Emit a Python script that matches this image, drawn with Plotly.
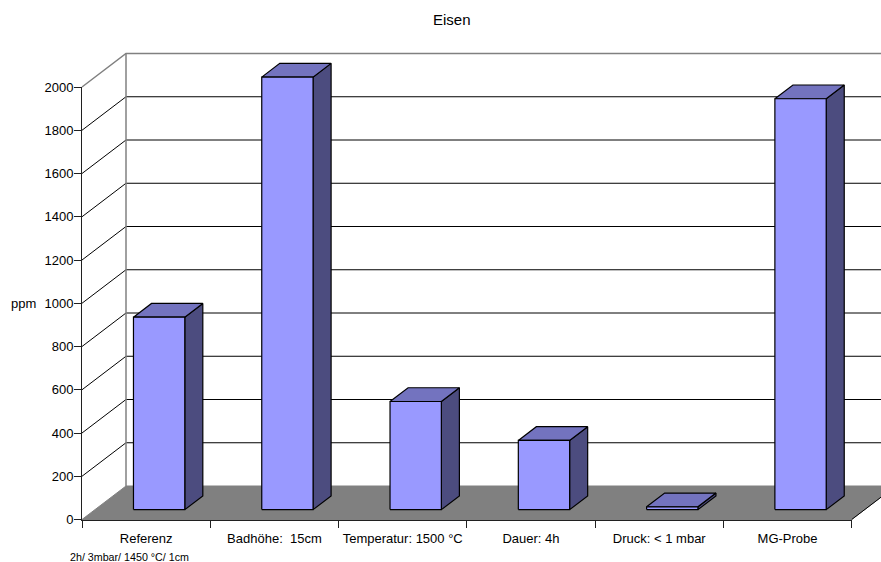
import plotly.graph_objects as go

# Values of the iron series in ppm
categories = ["Referenz", "Badhöhe:\u00a0 15cm", "Temperatur: 1500 °C", "Dauer: 4h", "Druck: < 1 mbar", "MG-Probe"]
values = [890, 2000, 500, 320, 13, 1900]
y_ticks = [0, 200, 400, 600, 800, 1000, 1200, 1400, 1600, 1800, 2000]

W, H = 881, 562
LEFT, RIGHT = 82.0, 851.7      # front plane, pixels
ZERO, TOP = 519.5, 87.0        # front plane, pixels
CAT_PX = (RIGHT - LEFT) / len(categories)
PPM_PX = (ZERO - TOP) / 2000

# Oblique projection: one full depth unit shifts by this much, in axis units
DEPTH_X = 44.0 / CAT_PX
DEPTH_Y = 33.5 / PPM_PX
NEAR, FAR = 0.295, 0.705        # depth range occupied by the bars
BAR_W = 0.40


def project(cat, ppm, depth):
    return cat + depth * DEPTH_X, ppm + depth * DEPTH_Y


def polygons(faces):
    xs, ys = [], []
    for face in faces:
        for cat, ppm, depth in face + [face[0]]:
            x, y = project(cat, ppm, depth)
            xs.append(x)
            ys.append(y)
        xs.append(None)
        ys.append(None)
    return xs, ys


def segments(runs):
    xs, ys = [], []
    for run in runs:
        for cat, ppm, depth in run:
            x, y = project(cat, ppm, depth)
            xs.append(x)
            ys.append(y)
        xs.append(None)
        ys.append(None)
    return xs, ys


n = len(categories)
far_right = n + 1          # gridlines run out of the page on the right

fig = go.Figure()


def add_lines(runs, color, width=1):
    x, y = segments(runs)
    fig.add_trace(go.Scatter(x=x, y=y, mode="lines", line=dict(color=color, width=width),
                             hoverinfo="skip", showlegend=False, xaxis="x", yaxis="y"))


def add_faces(faces, fill, line="#000000", width=1.2):
    x, y = polygons(faces)
    fig.add_trace(go.Scatter(x=x, y=y, mode="lines", fill="toself", fillcolor=fill,
                             line=dict(color=line, width=width), hoverinfo="skip",
                             showlegend=False, xaxis="x", yaxis="y"))


# Gridlines across the side wall and the back wall
grid = [t for t in y_ticks if 0 < t < 2000]
add_lines([[(0, t, 0), (0, t, 1), (far_right, t, 1)] for t in grid], "#000000")

# Wall outline
add_lines([[(0, 2000, 0), (0, 2000, 1), (far_right, 2000, 1)],
           [(0, 0, 1), (0, 2000, 1)]], "#808080", 1.5)

# Floor
add_faces([[(0, 0, 0), (n, 0, 0), (n, 0, 1), (0, 0, 1)]], "#808080", "#808080", 1)
add_lines([[(n, 0, 0), (n, 0, 1)]], "#000000")

# Bars: side, top, then front face
side, top, front = [], [], []
for i, v in enumerate(values):
    a, b = i + 0.5 - BAR_W / 2, i + 0.5 + BAR_W / 2
    front.append([(a, 0, NEAR), (b, 0, NEAR), (b, v, NEAR), (a, v, NEAR)])
    side.append([(b, 0, NEAR), (b, 0, FAR), (b, v, FAR), (b, v, NEAR)])
    top.append([(a, v, NEAR), (b, v, NEAR), (b, v, FAR), (a, v, FAR)])
add_faces(side, "#4C4C7F")
add_faces(top, "#7373BF")
add_faces(front, "#9999FF")

# Invisible trace keeps the front-plane axes alive
fig.add_trace(go.Scatter(x=[0], y=[0], mode="markers", marker=dict(opacity=0),
                         hoverinfo="skip", showlegend=False, xaxis="x2", yaxis="y2"))

FONT = "Liberation Sans, Arial, sans-serif"


def label(text, px, py, size):
    # Page-pixel placement expressed on the full-page axes
    return dict(text=text, xref="x", yref="y", x=(px - LEFT) / CAT_PX, y=(ZERO - py) / PPM_PX,
                showarrow=False, font=dict(family=FONT, size=size, color="#000000"),
                xanchor="center", yanchor="middle")


fig.update_layout(
    width=W, height=H, margin=dict(l=0, r=0, t=0, b=0, pad=0, autoexpand=False),
    paper_bgcolor="#ffffff", plot_bgcolor="rgba(0,0,0,0)",
    font=dict(family=FONT, size=13, color="#000000"),
    showlegend=False,
    xaxis=dict(domain=[0, 1], range=[-LEFT / CAT_PX, (W - LEFT) / CAT_PX], visible=False, fixedrange=True),
    yaxis=dict(domain=[0, 1], range=[(ZERO - H) / PPM_PX, ZERO / PPM_PX], visible=False, fixedrange=True),
    xaxis2=dict(domain=[LEFT / W, RIGHT / W], range=[0, n], anchor="y2",
                tickmode="array", tickvals=[i + 0.5 for i in range(n)], ticktext=categories,
                ticks="", ticklen=0, ticklabelstandoff=7, showgrid=False, zeroline=False,
                showline=True, linecolor="#202020", linewidth=1, fixedrange=True,
                tickfont=dict(family=FONT, size=13),
                minor=dict(tickmode="array", tickvals=list(range(n + 1)), ticks="outside",
                           ticklen=7, tickcolor="#202020", tickwidth=1, showgrid=False)),
    yaxis2=dict(domain=[(H - ZERO) / H, (H - TOP) / H], range=[0, 2000], anchor="x2",
                tickmode="array", tickvals=y_ticks, ticks="outside", ticklen=7,
                ticklabelstandoff=-2,
                tickcolor="#202020", tickwidth=1, showgrid=False, zeroline=False,
                showline=True, linecolor="#202020", linewidth=1, fixedrange=True,
                tickfont=dict(family=FONT, size=13)),
    annotations=[
        label("Eisen", 452, 19, 15),
        label("ppm", 23, 303.5, 13),
        label("2h/ 3mbar/ 1450 °C/ 1cm", 129, 557, 10.7),
    ],
)

fig.write_html("out.html")
